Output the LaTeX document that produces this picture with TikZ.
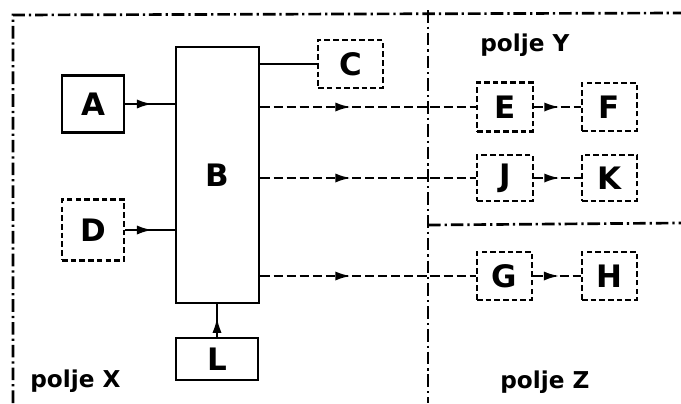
\documentclass[tikz,border=0pt]{standalone}
\usepackage{fontspec}
\setsansfont{DejaVu Sans}
\usetikzlibrary{arrows.meta, decorations.markings}

\begin{document}
\begin{tikzpicture}[x=0.025cm, y=-0.025cm,
    box/.style={rectangle, draw, line width=1.9pt, inner sep=0pt, font=\sffamily\bfseries\fontsize{22}{22}\selectfont},
    dbox/.style={box, dash pattern=on 4pt off 2.2pt},
    field/.style={font=\sffamily\bfseries\fontsize{16.5}{16.5}\selectfont, anchor=base west, inner sep=0pt},
    border/.style={line width=1.9pt, dash pattern=on 9pt off 2.8pt on 1.6pt off 2.8pt},
    link/.style={line width=1.7pt},
    dlink/.style={link, dash pattern=on 6.5pt off 2.8pt},
    midarrow/.style={postaction={decorate}, decoration={markings, mark=at position #1 with {\arrow{Latex[length=11pt,width=6.5pt]}}}},
    midarrow/.default=0.5
]
\useasboundingbox (0,0) rectangle (681,403);

% field borders
\draw[border] (13,403) -- (13,15) -- (681,13);
\draw[border] (428,10) -- (428,403);
\draw[border] (428,225) -- (681,223);

% field X
\node[box, minimum width=1.55cm, minimum height=1.42cm] (A) at (93,104) {A};
\node[box, minimum width=2.08cm, minimum height=6.4cm] (B) at (217.5,175) {B};
\node[dbox, minimum width=1.62cm, minimum height=1.2cm] (C) at (350.5,64) {C};
\node[dbox, minimum width=1.55cm, minimum height=1.52cm] (D) at (93,230) {D};
\node[box, minimum width=2.05cm, minimum height=1.05cm] (L) at (217,359) {L};

% field Y
\node[dbox, minimum width=1.4cm, minimum height=1.22cm] (E) at (505,107) {E};
\node[dbox, minimum width=1.38cm, minimum height=1.2cm] (F) at (609.5,107) {F};
\node[dbox, minimum width=1.4cm, minimum height=1.15cm] (J) at (505,178) {J};
\node[dbox, minimum width=1.38cm, minimum height=1.15cm] (K) at (609.5,178) {K};

% field Z
\node[dbox, minimum width=1.38cm, minimum height=1.2cm] (G) at (504.5,276) {G};
\node[dbox, minimum width=1.38cm, minimum height=1.2cm] (H) at (609.5,276) {H};

\node[field] (px) at (30,387) {polje X};
\node[field] (py) at (480,51) {polje Y};
\node[field] (pz) at (500,388) {polje Z};

% connectors
\draw[link, midarrow=0.55] (A.east) -- (B.west |- A.east);
\draw[link, midarrow=0.55] (D.east) -- (B.west |- D.east);
\draw[link, midarrow=0.6] (L.north) -- (B.south -| L.north);
\draw[link] (B.east |- C.west) -- (C.west);
\foreach \to in {E,J,G} {
    \draw[dlink, midarrow=0.42] (B.east |- \to.west) -- (\to.west);
}
\draw[dlink, midarrow=0.55] (E) -- (F);
\draw[dlink, midarrow=0.55] (J) -- (K);
\draw[dlink, midarrow=0.55] (G) -- (H);

\end{tikzpicture}
\end{document}
